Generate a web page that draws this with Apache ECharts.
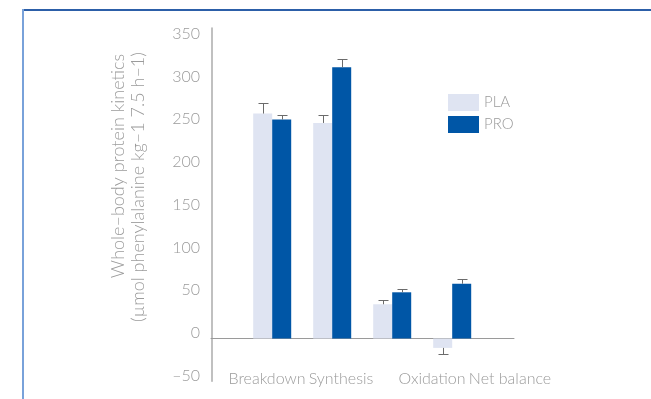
<!DOCTYPE html>
<html>
<head>
<meta charset="utf-8">
<script src="https://cdn.jsdelivr.net/npm/echarts@6/dist/echarts.min.js"></script>
<style>
  html, body { margin: 0; padding: 0; background: #fff; }
  #chart { width: 651px; height: 399px; }
</style>
</head>
<body>
<div id="chart"></div>
<script>
// Whole-body protein kinetics, placebo vs protein
const categories = ['Breakdown', 'Synthesis', 'Oxidation', 'Net balance'];
const seriesNames = ['PLA', 'PRO'];
const plaValues = [263, 252, 40, -11];
const proValues = [256, 317, 54, 64];
const plaErrors = [12, 9, 5, 7];
const proErrors = [5, 10, 4, 6];
const yTicks = [-50, 0, 50, 100, 150, 200, 250, 300, 350];
const titleLines = ['Whole–body protein kinetics', '(µmol phenylalanine kg–1 7.5 h–1)'];

const FONT = 'Lato, "Open Sans", sans-serif';
const TEXT = '#9b9b9b';
const BAR_W = 19;
const colors = ['#dfe4f2', '#0056a6'];

const chart = echarts.init(document.getElementById('chart'), null, { renderer: 'canvas' });

// groups sit at x = 1..n on a value axis so the axis can run past the last group
const pos = categories.map((_, i) => i + 1);
const barData = vals => vals.map((v, i) => [pos[i], v]);

function errorSeries(vals, errs, dx) {
  return {
    type: 'custom',
    silent: true,
    z: 3,
    data: vals.map((v, i) => [pos[i], v, errs[i]]),
    renderItem: function (params, api) {
      const x = api.value(0), v = api.value(1), e = api.value(2);
      const end = v >= 0 ? v + e : v - e;
      const p0 = api.coord([x, v]);
      const p1 = api.coord([x, end]);
      const cx = Math.round(p0[0] + dx) + 0.5;
      const cy = Math.round(p1[1]) + 0.5;
      const style = { stroke: '#6b6b6b', lineWidth: 1 };
      return {
        type: 'group',
        children: [
          { type: 'line', shape: { x1: cx, y1: p0[1], x2: cx, y2: cy }, style },
          { type: 'line', shape: { x1: cx - 5, y1: cy, x2: cx + 5, y2: cy }, style }
        ]
      };
    }
  };
}

// text placement
const labelX = [267, 341, 432, 510];
const labelY = 379;
const titlePos = [[118, 166], [138, 187]];

const graphics = [
  // page frame
  { type: 'rect', shape: { x: 22, y: 9, width: 629, height: 2 }, style: { fill: '#2c5fa8' }, silent: true },
  { type: 'rect', shape: { x: 22, y: 9, width: 2, height: 390 }, style: { fill: '#79a2da' }, silent: true }
].concat(categories.map((name, i) => ({
  type: 'text',
  x: labelX[i],
  y: labelY,
  silent: true,
  style: { text: name, fill: TEXT, font: '300 16px ' + FONT, align: 'center', verticalAlign: 'middle' }
}))).concat(titleLines.map((line, i) => ({
  type: 'text',
  x: titlePos[i][0],
  y: titlePos[i][1],
  rotation: Math.PI / 2,
  silent: true,
  style: { text: line, fill: TEXT, font: '300 18px ' + FONT, align: 'center', verticalAlign: 'middle' }
})));

const option = {
  animation: false,
  backgroundColor: '#ffffff',
  grid: { left: 211, right: 137, top: 28, bottom: 17.75 },
  legend: {
    data: seriesNames,
    orient: 'vertical',
    left: 448,
    top: 94,
    padding: 0,
    itemWidth: 31,
    itemHeight: 17,
    itemGap: 5,
    icon: 'rect',
    textStyle: { color: TEXT, fontFamily: FONT, fontWeight: 300, fontSize: 15 }
  },
  xAxis: {
    type: 'value',
    min: -0.02,
    max: 5.03,
    axisLine: { onZero: true, lineStyle: { color: '#9a9a9a', width: 1 } },
    axisTick: { show: false },
    axisLabel: { show: false },
    splitLine: { show: false }
  },
  yAxis: {
    type: 'value',
    min: yTicks[0],
    max: 363,
    interval: 50,
    axisLine: { show: true, lineStyle: { color: '#ababab', width: 1.5 } },
    axisTick: { show: false },
    splitLine: { show: false },
    axisLabel: {
      showMaxLabel: false,
      color: TEXT,
      fontFamily: FONT,
      fontWeight: 300,
      fontSize: 16,
      lineHeight: 11,
      margin: 11,
      verticalAlign: 'bottom',
      formatter: v => (yTicks.indexOf(v) >= 0 ? String(v).replace('-', '–') : '')
    }
  },
  series: [
    {
      name: seriesNames[0],
      type: 'bar',
      data: barData(plaValues),
      barWidth: BAR_W,
      barGap: '0%',
      itemStyle: { color: colors[0] }
    },
    {
      name: seriesNames[1],
      type: 'bar',
      data: barData(proValues),
      barWidth: BAR_W,
      barGap: '0%',
      itemStyle: { color: colors[1] }
    },
    errorSeries(plaValues, plaErrors, -BAR_W / 2),
    errorSeries(proValues, proErrors, BAR_W / 2)
  ],
  graphic: graphics
};

chart.setOption(option);
</script>
</body>
</html>
